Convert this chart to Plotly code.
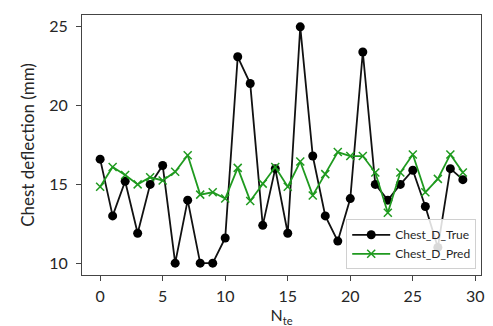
import plotly.graph_objects as go

n_te = list(range(30))
chest_true = [16.6, 13.0, 15.2, 11.9, 15.0, 16.2, 10.0, 14.0, 10.0, 10.0,
              11.6, 23.1, 21.4, 12.4, 16.0, 11.9, 25.0, 16.8, 13.0, 11.4,
              14.1, 23.4, 15.0, 14.0, 15.0, 15.9, 13.6, 11.0, 16.0, 15.3]
chest_pred = [14.85, 16.1, 15.6, 15.0, 15.45, 15.25, 15.8, 16.85, 14.35, 14.5,
              14.1, 16.05, 13.95, 15.05, 16.1, 14.85, 16.45, 14.3, 15.65, 17.05,
              16.8, 16.8, 15.75, 13.2, 15.75, 16.9, 14.5, 15.35, 16.9, 15.75]

font_family = "Lato, Noto Sans, DejaVu Sans, sans-serif"
text_color = "#262626"

fig = go.Figure()
fig.add_trace(go.Scatter(
    x=n_te, y=chest_true, name="Chest_D_True", mode="lines+markers",
    line=dict(color="#111111", width=1.8),
    marker=dict(symbol="circle", size=9, color="black"),
))
fig.add_trace(go.Scatter(
    x=n_te, y=chest_pred, name="Chest_D_Pred", mode="lines+markers",
    line=dict(color="#1f9a1f", width=1.8),
    marker=dict(symbol="x-thin", size=8, line=dict(color="#1f9a1f", width=1.5)),
))

axis_common = dict(
    showline=True, linecolor="#444", linewidth=1, mirror=True,
    ticks="outside", ticklen=5, tickcolor="#444", showgrid=False, zeroline=False,
    tickfont=dict(size=16, color=text_color, family=font_family),
)

fig.update_layout(
    width=493, height=326,
    margin=dict(l=74, r=20, t=7, b=59),
    paper_bgcolor="white", plot_bgcolor="white",
    font=dict(family=font_family, color=text_color),
    showlegend=True,
    legend=dict(
        x=0.988, y=0.022, xanchor="right", yanchor="bottom",
        bgcolor="rgba(255,255,255,0.85)", bordercolor="#d0d0d0", borderwidth=1,
        font=dict(size=12, color=text_color, family=font_family),
        tracegroupgap=0, itemwidth=38,
    ),
    xaxis=dict(range=[-1.45, 30.45], tickvals=[0, 5, 10, 15, 20, 25, 30],
               ticklabelstandoff=2,
               title=dict(text="N<sub>te</sub>", font=dict(size=16), standoff=0),
               **axis_common),
    yaxis=dict(range=[9.25, 25.75], tickvals=[10, 15, 20, 25],
               ticklabelstandoff=5,
               title=dict(text="Chest deflection (mm)", font=dict(size=17), standoff=10),
               **axis_common),
)

fig.write_html("out.html")
